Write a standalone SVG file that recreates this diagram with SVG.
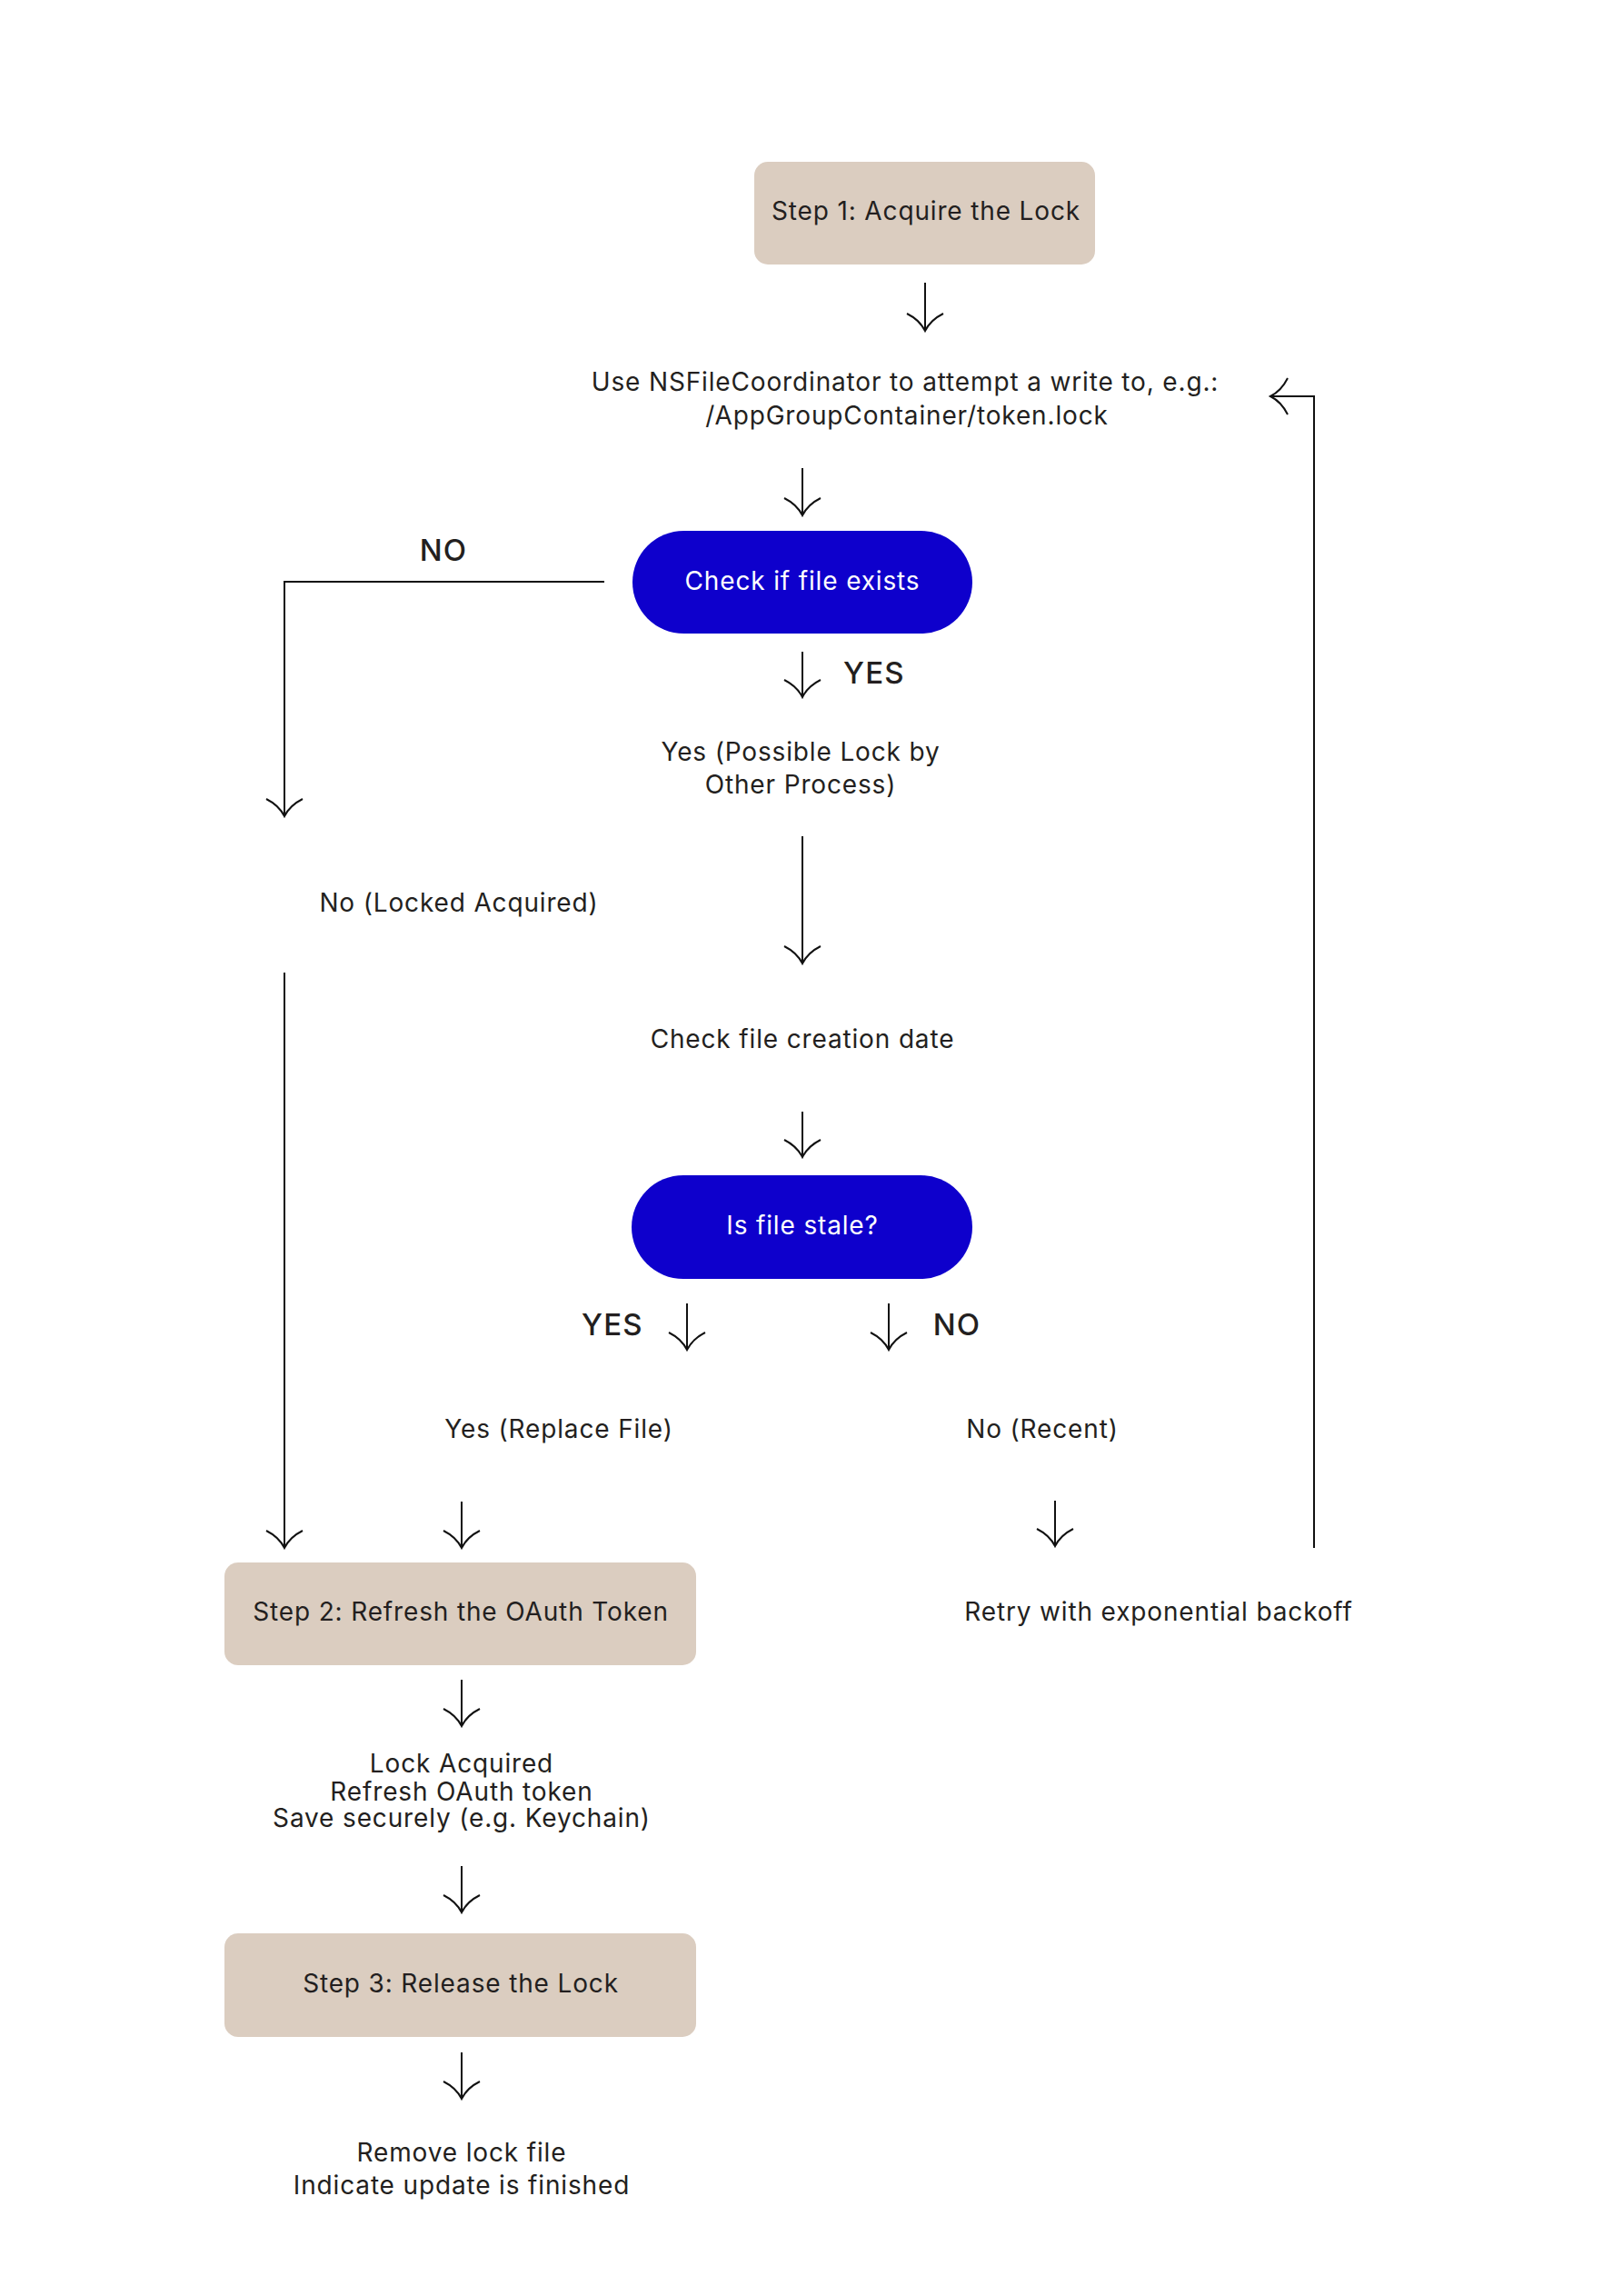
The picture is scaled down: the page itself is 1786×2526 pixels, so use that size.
<svg xmlns="http://www.w3.org/2000/svg" width="1786" height="2526" viewBox="0 0 1786 2526">
<style>
.t{font-family:Inter,"Liberation Sans",sans-serif;font-size:28px;letter-spacing:0.85px;fill:#231F20;text-anchor:middle}
.w{fill:#FFFFFF}
.lbl{font-size:33px;font-weight:500;letter-spacing:1.2px}
.box{fill:#DBCDC0}
.pill{fill:#0E00CC}
.c{fill:none;stroke:#111111;stroke-width:2;marker-end:url(#ah)}
</style>
<defs>
<marker id="ah" markerUnits="userSpaceOnUse" orient="auto" refX="0" refY="0" markerWidth="44" markerHeight="44" viewBox="-22 -22 44 44" overflow="visible">
<path d="M-19,-20 Q-12,-6 0,0 Q-12,6 -19,20" fill="none" stroke="#111111" stroke-width="2"/>
</marker>
</defs>
<rect width="1786" height="2526" fill="#FFFFFF"/>
<g id="connectors">
<path class="c" d="M1018,311 V364"/>
<path class="c" d="M883,515 V567"/>
<path class="c" d="M1446,1703 V436 H1398"/>
<path class="c" d="M665,640 H313 V898"/>
<path class="c" d="M883,717 V767"/>
<path class="c" d="M883,920 V1060"/>
<path class="c" d="M313,1070 V1703"/>
<path class="c" d="M883,1223 V1273"/>
<path class="c" d="M756,1434 V1485"/>
<path class="c" d="M978,1434 V1485"/>
<path class="c" d="M508,1652 V1703"/>
<path class="c" d="M1161,1651 V1701"/>
<path class="c" d="M508,1848 V1899"/>
<path class="c" d="M508,2053 V2104"/>
<path class="c" d="M508,2258 V2309"/>
</g>
<g id="step1">
<rect class="box" x="830" y="178" width="375" height="113" rx="15"/>
<text class="t" x="1019" y="242">Step 1: Acquire the Lock</text>
</g>
<g id="use-coordinator">
<text class="t" x="996" y="430">Use NSFileCoordinator to attempt a write to, e.g.:</text>
<text class="t" x="998" y="467">/AppGroupContainer/token.lock</text>
</g>
<g id="check-exists">
<rect class="pill" x="696" y="584" width="374" height="113" rx="56.5"/>
<text class="t w" x="883" y="649">Check if file exists</text>
</g>
<g id="label-no-1"><text class="t lbl" x="488" y="617">NO</text></g>
<g id="label-yes-1"><text class="t lbl" x="962" y="752">YES</text></g>
<g id="yes-possible">
<text class="t" x="881" y="837">Yes (Possible Lock by</text>
<text class="t" x="881" y="873">Other Process)</text>
</g>
<g id="no-locked"><text class="t" x="505" y="1003">No (Locked Acquired)</text></g>
<g id="check-date"><text class="t" x="883" y="1153">Check file creation date</text></g>
<g id="is-stale">
<rect class="pill" x="695" y="1293" width="375" height="114" rx="57"/>
<text class="t w" x="883" y="1358">Is file stale?</text>
</g>
<g id="label-yes-2"><text class="t lbl" x="674" y="1469">YES</text></g>
<g id="label-no-2"><text class="t lbl" x="1053" y="1469">NO</text></g>
<g id="yes-replace"><text class="t" x="615" y="1582">Yes (Replace File)</text></g>
<g id="no-recent"><text class="t" x="1147" y="1582">No (Recent)</text></g>
<g id="step2">
<rect class="box" x="247" y="1719" width="519" height="113" rx="15"/>
<text class="t" x="507" y="1783">Step 2: Refresh the OAuth Token</text>
</g>
<g id="retry"><text class="t" x="1275" y="1783">Retry with exponential backoff</text></g>
<g id="lock-acquired">
<text class="t" x="508" y="1950">Lock Acquired</text>
<text class="t" x="508" y="1981">Refresh OAuth token</text>
<text class="t" x="508" y="2010">Save securely (e.g. Keychain)</text>
</g>
<g id="step3">
<rect class="box" x="247" y="2127" width="519" height="114" rx="15"/>
<text class="t" x="507" y="2192">Step 3: Release the Lock</text>
</g>
<g id="remove">
<text class="t" x="508" y="2378">Remove lock file</text>
<text class="t" x="508" y="2414">Indicate update is finished</text>
</g>
</svg>
